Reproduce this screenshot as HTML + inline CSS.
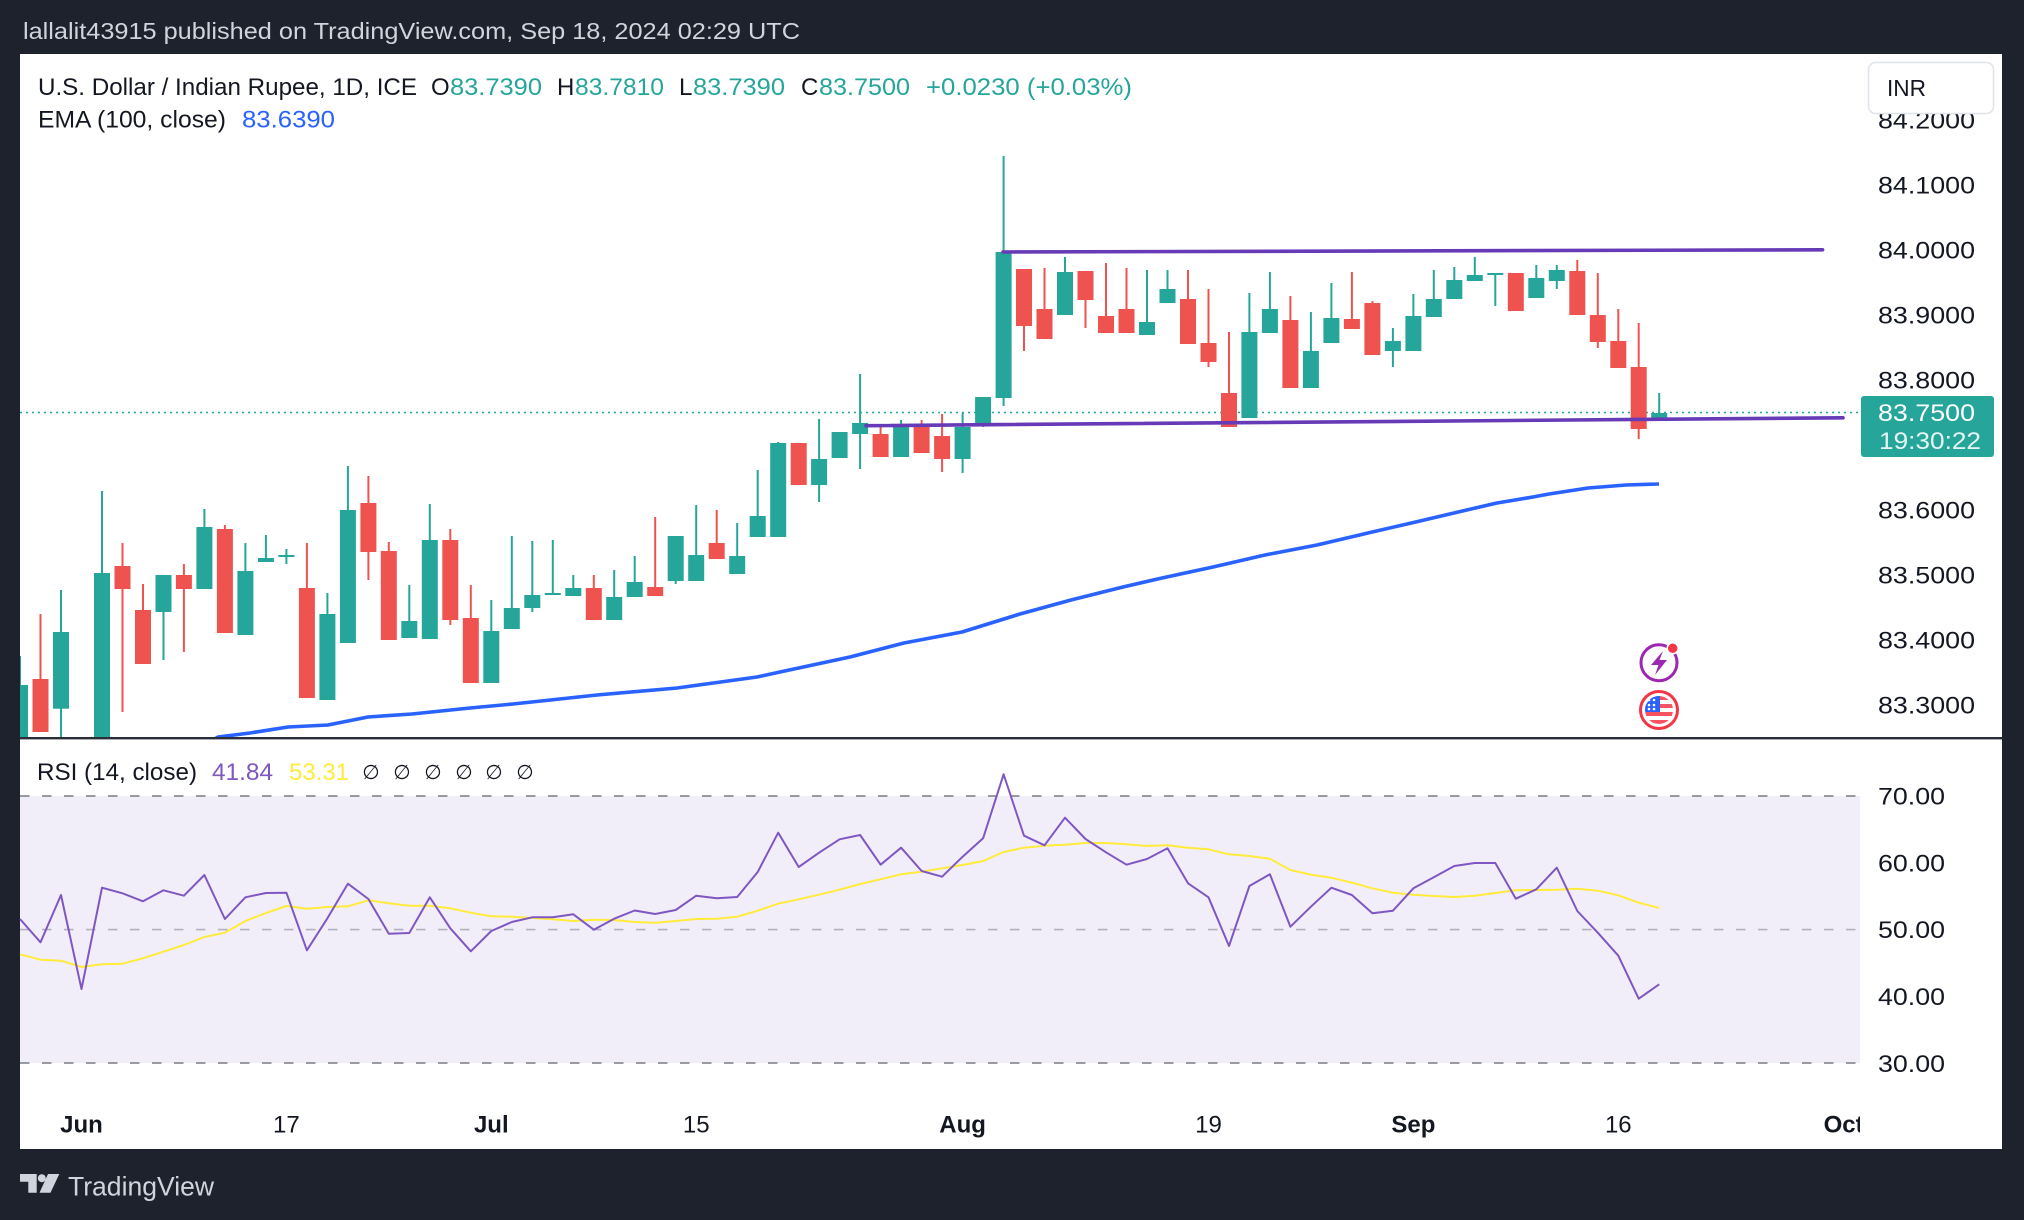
<!DOCTYPE html>
<html><head><meta charset="utf-8"><style>
html,body{margin:0;padding:0;background:#1e222d;}
svg{display:block;}
text{font-family:"Liberation Sans",sans-serif;}
</style></head><body>
<svg width="2024" height="1220" viewBox="0 0 2024 1220" xmlns="http://www.w3.org/2000/svg">
<defs>
<clipPath id="pane"><rect x="20" y="54" width="1840" height="683"/></clipPath>
<clipPath id="taxis"><rect x="20" y="1090" width="1840" height="59"/></clipPath>
<clipPath id="flagc"><circle cx="1659" cy="710" r="14"/></clipPath>
</defs>
<rect x="0" y="0" width="2024" height="1220" fill="#1e222d"/>
<text x="23" y="39" font-size="23" fill="#d1d4dc" textLength="777" lengthAdjust="spacingAndGlyphs">lallalit43915 published on TradingView.com, Sep 18, 2024 02:29 UTC</text>
<rect x="20" y="54" width="1982" height="1095" fill="#ffffff"/>

<!-- RSI band -->
<rect x="20" y="796" width="1840" height="267" fill="#f2eef9"/>
<line x1="20" y1="796" x2="1860" y2="796" stroke="#787b86" stroke-width="1.6" stroke-dasharray="9.5 12.5"/>
<line x1="20" y1="929.6" x2="1860" y2="929.6" stroke="#b2b0bb" stroke-width="1.6" stroke-dasharray="9.5 12.5"/>
<line x1="20" y1="1063" x2="1860" y2="1063" stroke="#787b86" stroke-width="1.6" stroke-dasharray="9.5 12.5"/>

<g clip-path="url(#pane)">
<!-- last price dotted -->
<line x1="20" y1="412.5" x2="1860" y2="412.5" stroke="#26a69a" stroke-width="1.6" stroke-dasharray="2 4"/>
<!-- EMA -->
<polyline fill="none" stroke="#2962ff" stroke-width="3.6" stroke-linejoin="round" points="205,745 218,737 250,733 288,727 328,725 368,717 412,714 470,708 513,704 597,695 677,688 757,677 780,672 850,657 904,643 962,632 1020,614 1071,600 1123,587 1162,578 1213,567 1265,555 1317,545 1368,533 1420,521 1471,509 1497,503 1533,497 1549,494 1588,488 1626,485 1659,484"/>
<!-- green candles -->
<g fill="#26a69a">
<rect x="19" y="656" width="2" height="84"/><rect x="12" y="685" width="16" height="55"/>
<rect x="60" y="590" width="2" height="150"/><rect x="53" y="632" width="16" height="76.7"/>
<rect x="101" y="491" width="2" height="82"/><rect x="94" y="573" width="16" height="167"/>
<rect x="162.5" y="575" width="2" height="85"/><rect x="155.5" y="575" width="16" height="37"/>
<rect x="203.4" y="509" width="2" height="80"/><rect x="196.4" y="527" width="16" height="62"/>
<rect x="244.4" y="543" width="2" height="92"/><rect x="237.4" y="571" width="16" height="64"/>
<rect x="264.9" y="535" width="2" height="27"/><rect x="257.9" y="558" width="16" height="4"/>
<rect x="285.4" y="549" width="2" height="15"/><rect x="278.4" y="555" width="16" height="2"/>
<rect x="326.4" y="593" width="2" height="107"/><rect x="319.4" y="614" width="16" height="86"/>
<rect x="346.9" y="466" width="2" height="177"/><rect x="339.9" y="510" width="16" height="133"/>
<rect x="408.3" y="585" width="2" height="53"/><rect x="401.3" y="621" width="16" height="17"/>
<rect x="428.8" y="504" width="2" height="135"/><rect x="421.8" y="540" width="16" height="99"/>
<rect x="490.3" y="600" width="2" height="83"/><rect x="483.3" y="631" width="16" height="52"/>
<rect x="510.8" y="536" width="2" height="93"/><rect x="503.8" y="608" width="16" height="21"/>
<rect x="531.3" y="541" width="2" height="71"/><rect x="524.3" y="595" width="16" height="13"/>
<rect x="551.8" y="540" width="2" height="55"/><rect x="544.8" y="593" width="16" height="2"/>
<rect x="572.3" y="575" width="2" height="21"/><rect x="565.3" y="588" width="16" height="8"/>
<rect x="613.2" y="570" width="2" height="50"/><rect x="606.2" y="597" width="16" height="23"/>
<rect x="633.7" y="556" width="2" height="41"/><rect x="626.7" y="582" width="16" height="15"/>
<rect x="674.7" y="536" width="2" height="48"/><rect x="667.7" y="536" width="16" height="45"/>
<rect x="695.2" y="505" width="2" height="76"/><rect x="688.2" y="555" width="16" height="26"/>
<rect x="736.2" y="523" width="2" height="51"/><rect x="729.2" y="556" width="16" height="18"/>
<rect x="756.7" y="470" width="2" height="67"/><rect x="749.7" y="516" width="16" height="21"/>
<rect x="777.2" y="442" width="2" height="95"/><rect x="770.2" y="443" width="16" height="94"/>
<rect x="818.1" y="419" width="2" height="83"/><rect x="811.1" y="459" width="16" height="26"/>
<rect x="831.6" y="432" width="16" height="26"/>
<rect x="859.1" y="374" width="2" height="95"/><rect x="852.1" y="423" width="16" height="11"/>
<rect x="900.1" y="420" width="2" height="37"/><rect x="893.1" y="426" width="16" height="31"/>
<rect x="961.6" y="413" width="2" height="60"/><rect x="954.6" y="427" width="16" height="32"/>
<rect x="982.1" y="397" width="2" height="30"/><rect x="975.1" y="397" width="16" height="26"/>
<rect x="1002.6" y="156" width="2" height="250"/><rect x="995.6" y="252" width="16" height="146"/>
<rect x="1064" y="257" width="2" height="58"/><rect x="1057" y="272" width="16" height="43"/>
<rect x="1146" y="270" width="2" height="65"/><rect x="1139" y="322" width="16" height="13"/>
<rect x="1166.5" y="270" width="2" height="33"/><rect x="1159.5" y="289" width="16" height="14"/>
<rect x="1248.4" y="293" width="2" height="125"/><rect x="1241.4" y="332" width="16" height="86"/>
<rect x="1268.9" y="272" width="2" height="61"/><rect x="1261.9" y="309" width="16" height="24"/>
<rect x="1309.9" y="312" width="2" height="76"/><rect x="1302.9" y="351" width="16" height="37"/>
<rect x="1330.4" y="283" width="2" height="60"/><rect x="1323.4" y="318" width="16" height="25"/>
<rect x="1391.9" y="328" width="2" height="39"/><rect x="1384.9" y="341" width="16" height="10"/>
<rect x="1412.4" y="294" width="2" height="57"/><rect x="1405.4" y="316" width="16" height="35"/>
<rect x="1432.8" y="270" width="2" height="47"/><rect x="1425.8" y="299" width="16" height="18"/>
<rect x="1453.3" y="267" width="2" height="32"/><rect x="1446.3" y="280" width="16" height="19"/>
<rect x="1473.8" y="257" width="2" height="24"/><rect x="1466.8" y="275" width="16" height="6"/>
<rect x="1494.3" y="273" width="2" height="33"/><rect x="1487.3" y="273" width="16" height="2"/>
<rect x="1535.3" y="265" width="2" height="33"/><rect x="1528.3" y="278" width="16" height="20"/>
<rect x="1555.8" y="265" width="2" height="24"/><rect x="1548.8" y="270" width="16" height="11"/>
<rect x="1658.2" y="393" width="2" height="28"/><rect x="1651.2" y="413" width="16" height="8"/>
</g>
<!-- red candles -->
<g fill="#ef5350">
<rect x="39.5" y="614" width="2" height="118"/><rect x="32.5" y="679" width="16" height="53"/>
<rect x="121.5" y="543" width="2" height="169"/><rect x="114.5" y="566" width="16" height="23"/>
<rect x="142" y="584" width="2" height="80"/><rect x="135" y="610" width="16" height="54"/>
<rect x="182.9" y="564" width="2" height="88"/><rect x="175.9" y="575" width="16" height="14"/>
<rect x="223.9" y="525" width="2" height="108"/><rect x="216.9" y="529" width="16" height="104"/>
<rect x="305.9" y="543" width="2" height="155"/><rect x="298.9" y="588" width="16" height="110"/>
<rect x="367.4" y="476" width="2" height="104"/><rect x="360.4" y="503" width="16" height="49"/>
<rect x="387.8" y="542" width="2" height="98"/><rect x="380.8" y="551" width="16" height="89"/>
<rect x="449.3" y="529" width="2" height="96"/><rect x="442.3" y="540" width="16" height="80"/>
<rect x="469.8" y="585" width="2" height="98"/><rect x="462.8" y="618" width="16" height="65"/>
<rect x="592.8" y="575" width="2" height="45"/><rect x="585.8" y="588" width="16" height="32"/>
<rect x="654.2" y="517" width="2" height="79"/><rect x="647.2" y="587" width="16" height="9"/>
<rect x="715.7" y="510" width="2" height="49"/><rect x="708.7" y="543" width="16" height="16"/>
<rect x="790.7" y="443" width="16" height="42"/>
<rect x="879.6" y="426" width="2" height="31"/><rect x="872.6" y="434" width="16" height="23"/>
<rect x="920.6" y="420" width="2" height="33"/><rect x="913.6" y="427" width="16" height="26"/>
<rect x="941.1" y="414" width="2" height="58"/><rect x="934.1" y="436" width="16" height="23"/>
<rect x="1023" y="269" width="2" height="82"/><rect x="1016" y="269" width="16" height="57"/>
<rect x="1043.5" y="268" width="2" height="71"/><rect x="1036.5" y="309" width="16" height="30"/>
<rect x="1084.5" y="271" width="2" height="57"/><rect x="1077.5" y="271" width="16" height="29"/>
<rect x="1105" y="263" width="2" height="70"/><rect x="1098" y="316" width="16" height="17"/>
<rect x="1125.5" y="268" width="2" height="65"/><rect x="1118.5" y="309" width="16" height="24"/>
<rect x="1187" y="270" width="2" height="74"/><rect x="1180" y="299" width="16" height="45"/>
<rect x="1207.5" y="289" width="2" height="78"/><rect x="1200.5" y="343" width="16" height="19"/>
<rect x="1228" y="332" width="2" height="95"/><rect x="1221" y="393" width="16" height="34"/>
<rect x="1289.4" y="296" width="2" height="92"/><rect x="1282.4" y="320" width="16" height="68"/>
<rect x="1350.9" y="272" width="2" height="57"/><rect x="1343.9" y="319" width="16" height="10"/>
<rect x="1371.4" y="301" width="2" height="54"/><rect x="1364.4" y="303" width="16" height="52"/>
<rect x="1507.8" y="273" width="16" height="38"/>
<rect x="1576.3" y="260" width="2" height="55"/><rect x="1569.3" y="271" width="16" height="44"/>
<rect x="1596.8" y="273" width="2" height="75"/><rect x="1589.8" y="315" width="16" height="27"/>
<rect x="1617.3" y="309" width="2" height="59"/><rect x="1610.3" y="341" width="16" height="27"/>
<rect x="1637.7" y="323" width="2" height="116"/><rect x="1630.7" y="367" width="16" height="62"/>
</g>
<!-- channel lines -->
<line x1="1003" y1="252" x2="1822.6" y2="249.8" stroke="#673ab7" stroke-width="3.6" stroke-linecap="round"/>
<line x1="866" y1="425.7" x2="1843" y2="417.8" stroke="#673ab7" stroke-width="3.6" stroke-linecap="round"/>
<!-- icons -->
<circle cx="1659" cy="662.7" r="18" fill="#fff" stroke="#9c27b0" stroke-width="3"/>
<path d="M1663 651 L1651 665 L1658.5 665 L1655 675 L1667 660 L1659.5 660 Z" fill="#9c27b0"/>
<circle cx="1672.7" cy="648.3" r="5.5" fill="#f23645" stroke="#fff" stroke-width="1.5"/>
<circle cx="1659" cy="710" r="18.5" fill="#fff" stroke="#f23645" stroke-width="3"/>
<g clip-path="url(#flagc)">
<rect x="1644" y="695" width="30" height="30" fill="#ffffff"/>
<rect x="1644" y="696" width="30" height="4" fill="#f7525f"/>
<rect x="1644" y="704" width="30" height="4" fill="#f7525f"/>
<rect x="1644" y="712" width="30" height="4" fill="#f7525f"/>
<rect x="1644" y="720" width="30" height="5" fill="#f7525f"/>
<rect x="1644" y="695" width="16" height="17" fill="#2962ff"/>
<g fill="#fff"><circle cx="1649" cy="700" r="1.3"/><circle cx="1654" cy="700" r="1.3"/><circle cx="1649" cy="705" r="1.3"/><circle cx="1654" cy="705" r="1.3"/><circle cx="1649" cy="709" r="1.3"/><circle cx="1654" cy="709" r="1.3"/></g>
</g>
</g>

<!-- RSI lines -->
<polyline fill="none" stroke="#ffeb3b" stroke-width="2" stroke-linejoin="round" points="20,954.3 40.5,959.7 61,960.7 81.5,967 102,964.3 122.5,963.7 143,958.3 163.5,951.7 183.9,945 204.4,937 224.9,932.7 245.4,921 265.9,913 286.4,906 306.9,908.7 327.4,907 347.9,906.3 368.4,900.3 388.8,903.3 409.3,905.7 429.8,905.7 450.3,908.3 470.8,912.7 491.3,916.3 511.8,916.7 532.3,918 552.8,919.3 573.3,921 593.8,919.7 614.2,920 634.7,922 655.2,922.7 675.7,921 696.2,919 716.7,918.7 737.2,916.7 757.7,910.7 778.2,903.7 798.7,899.3 819.1,894.7 839.6,889.7 860.1,884 880.6,879.3 901.1,874.3 921.6,871.7 942.1,868.3 962.6,865 983.1,861 1003.6,852 1024,847.7 1044.5,845.7 1065,844.7 1085.5,843 1106,843 1126.5,844.3 1147,846 1167.5,845.3 1188,847.7 1208.5,849.3 1229,854.3 1249.4,856 1269.9,858.7 1290.4,870 1310.9,874.7 1331.4,877.7 1351.9,882.7 1372.4,888.3 1392.9,892.7 1413.4,894.7 1433.8,896 1454.3,897 1474.8,895.7 1495.3,893 1515.8,890.3 1536.3,890 1556.8,889.7 1577.3,888.7 1597.8,890.7 1618.3,895.3 1638.7,902.7 1659.2,908"/>
<polyline fill="none" stroke="#7e57c2" stroke-width="2" stroke-linejoin="round" points="20,919 40.5,942.3 61,895 81.5,989 102,887.7 122.5,893.3 143,901.3 163.5,890.3 183.9,895.7 204.4,875 224.9,919 245.4,897.3 265.9,893 286.4,892.7 306.9,950.3 327.4,918.3 347.9,883.7 368.4,899 388.8,933.7 409.3,933 429.8,897.3 450.3,928.3 470.8,951.3 491.3,931 511.8,922 532.3,917.3 552.8,917.3 573.3,914.3 593.8,929.7 614.2,918.7 634.7,910.5 655.2,914 675.7,910 696.2,895.7 716.7,898.3 737.2,897 757.7,872 778.2,832.7 798.7,867 819.1,852.7 839.6,839.3 860.1,835 880.6,864.7 901.1,847.7 921.6,871 942.1,876.7 962.6,856.7 983.1,838.3 1003.6,774.3 1024,835.7 1044.5,845.3 1065,817.7 1085.5,839 1106,852.3 1126.5,864.7 1147,859 1167.5,848.3 1188,883.3 1208.5,897.3 1229,946 1249.4,886 1269.9,874.3 1290.4,926.7 1310.9,906.7 1331.4,887.7 1351.9,895 1372.4,913.3 1392.9,910.7 1413.4,888.3 1433.8,877.3 1454.3,866 1474.8,863 1495.3,863 1515.8,898.7 1536.3,889.3 1556.8,867.7 1577.3,911 1597.8,932.7 1618.3,955.7 1638.7,998.7 1659.2,984.3"/>

<!-- pane separator -->
<rect x="20" y="737" width="1982" height="2.4" fill="#2a2e39"/>

<!-- legend main -->
<text y="95" font-size="24" fill="#131722">
<tspan x="38" textLength="379" lengthAdjust="spacingAndGlyphs">U.S. Dollar / Indian Rupee, 1D, ICE</tspan>
</text>
<text y="95" font-size="24">
<tspan x="431" fill="#131722">O</tspan><tspan x="450" fill="#26a69a" textLength="92" lengthAdjust="spacingAndGlyphs">83.7390</tspan>
<tspan x="557" fill="#131722">H</tspan><tspan x="575" fill="#26a69a" textLength="89" lengthAdjust="spacingAndGlyphs">83.7810</tspan>
<tspan x="679" fill="#131722">L</tspan><tspan x="693" fill="#26a69a" textLength="92" lengthAdjust="spacingAndGlyphs">83.7390</tspan>
<tspan x="801" fill="#131722">C</tspan><tspan x="819" fill="#26a69a" textLength="91" lengthAdjust="spacingAndGlyphs">83.7500</tspan>
<tspan x="926" fill="#26a69a" textLength="206" lengthAdjust="spacingAndGlyphs">+0.0230 (+0.03%)</tspan>
</text>
<text y="127.5" font-size="24">
<tspan x="38" fill="#131722" textLength="188" lengthAdjust="spacingAndGlyphs">EMA (100, close)</tspan><tspan x="242" fill="#2962ff" textLength="93" lengthAdjust="spacingAndGlyphs">83.6390</tspan>
</text>

<!-- RSI legend -->
<text y="780" font-size="24">
<tspan x="37" fill="#131722" textLength="160" lengthAdjust="spacingAndGlyphs">RSI (14, close)</tspan><tspan x="212" fill="#7e57c2" textLength="61" lengthAdjust="spacingAndGlyphs">41.84</tspan><tspan x="289" fill="#ffeb3b" textLength="60" lengthAdjust="spacingAndGlyphs">53.31</tspan>
</text>
<g font-size="20" fill="#131722" text-anchor="middle">
<text x="371" y="779">∅</text><text x="402" y="779">∅</text><text x="433" y="779">∅</text><text x="464" y="779">∅</text><text x="494" y="779">∅</text><text x="525" y="779">∅</text>
</g>

<!-- price axis -->
<g font-size="24" fill="#131722">
<text x="1878" y="128.6" textLength="97" lengthAdjust="spacingAndGlyphs">84.2000</text>
<text x="1878" y="193.6" textLength="97" lengthAdjust="spacingAndGlyphs">84.1000</text>
<text x="1878" y="258.6" textLength="97" lengthAdjust="spacingAndGlyphs">84.0000</text>
<text x="1878" y="323.6" textLength="97" lengthAdjust="spacingAndGlyphs">83.9000</text>
<text x="1878" y="388.6" textLength="97" lengthAdjust="spacingAndGlyphs">83.8000</text>
<text x="1878" y="518.6" textLength="97" lengthAdjust="spacingAndGlyphs">83.6000</text>
<text x="1878" y="583.6" textLength="97" lengthAdjust="spacingAndGlyphs">83.5000</text>
<text x="1878" y="648.6" textLength="97" lengthAdjust="spacingAndGlyphs">83.4000</text>
<text x="1878" y="713.6" textLength="97" lengthAdjust="spacingAndGlyphs">83.3000</text>
<text x="1878" y="804.6" textLength="67" lengthAdjust="spacingAndGlyphs">70.00</text>
<text x="1878" y="871.4" textLength="67" lengthAdjust="spacingAndGlyphs">60.00</text>
<text x="1878" y="938.2" textLength="67" lengthAdjust="spacingAndGlyphs">50.00</text>
<text x="1878" y="1005" textLength="67" lengthAdjust="spacingAndGlyphs">40.00</text>
<text x="1878" y="1071.8" textLength="67" lengthAdjust="spacingAndGlyphs">30.00</text>
</g>
<!-- last price label -->
<rect x="1861" y="396" width="133" height="61" rx="3" fill="#26a69a"/>
<text x="1878" y="421" font-size="24" fill="#ffffff" textLength="97" lengthAdjust="spacingAndGlyphs">83.7500</text>
<text x="1879" y="449" font-size="24" fill="#e6f5f3" textLength="102" lengthAdjust="spacingAndGlyphs">19:30:22</text>
<!-- INR box -->
<rect x="1868.5" y="62.5" width="125" height="51" rx="7" fill="#ffffff" stroke="#e0e3eb" stroke-width="1.5"/>
<text x="1887" y="96" font-size="23" fill="#131722" textLength="39" lengthAdjust="spacingAndGlyphs">INR</text>

<!-- time axis -->
<g clip-path="url(#taxis)" font-size="24" fill="#131722" text-anchor="middle">
<text x="81.5" y="1132.6" font-weight="bold">Jun</text>
<text x="286.4" y="1132.6">17</text>
<text x="491.3" y="1132.6" font-weight="bold">Jul</text>
<text x="696.2" y="1132.6">15</text>
<text x="962.6" y="1132.6" font-weight="bold">Aug</text>
<text x="1208.5" y="1132.6">19</text>
<text x="1413.4" y="1132.6" font-weight="bold">Sep</text>
<text x="1618.3" y="1132.6">16</text>
<text x="1843.6" y="1132.6" font-weight="bold">Oct</text>
</g>

<!-- footer logo -->
<g fill="#d1d4dc">
<path d="M20 1174 H36.7 V1192.7 H28.3 V1181.7 H20 Z"/>
<circle cx="41.8" cy="1178.2" r="4"/>
<path d="M48 1174 H59.3 L50.5 1192.7 H39.5 Z"/>
</g>
<text x="68" y="1195.5" font-size="26.5" fill="#d1d4dc" textLength="146" lengthAdjust="spacingAndGlyphs">TradingView</text>
</svg>
</body></html>
